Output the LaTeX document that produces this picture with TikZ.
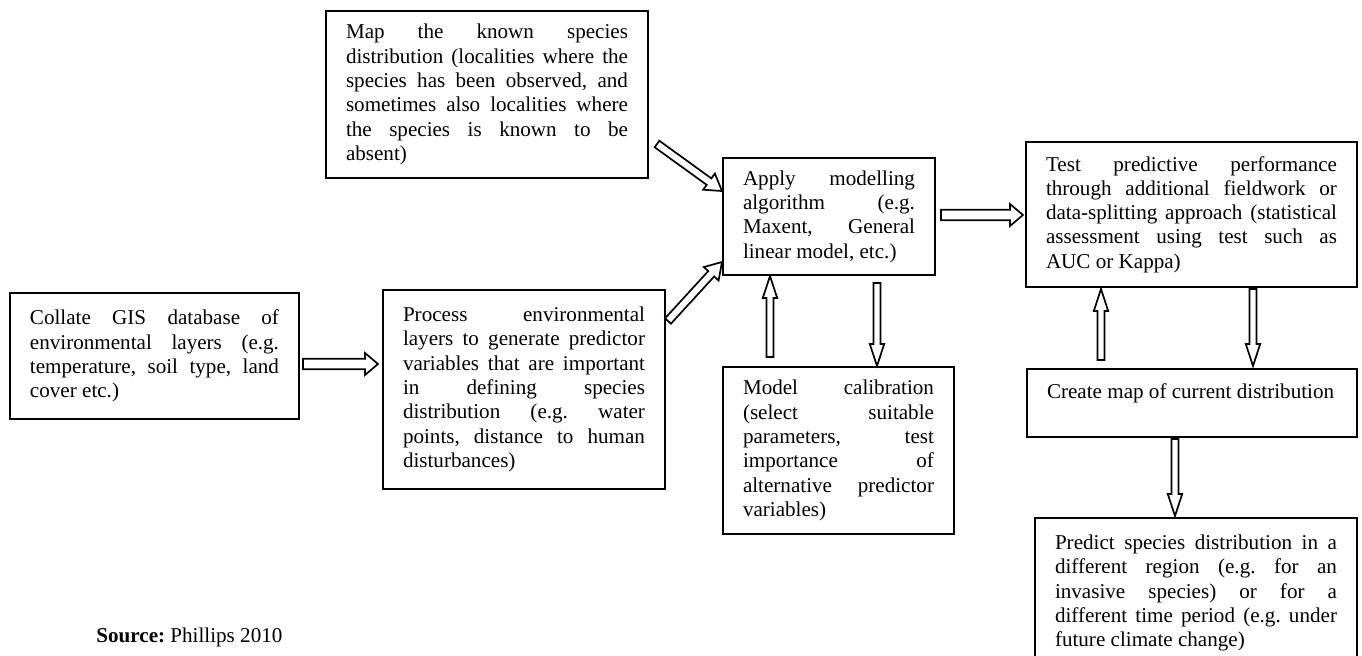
\documentclass[tikz,border=0pt]{standalone}
\usepackage{fontspec}
\setmainfont{Liberation Serif}
\usetikzlibrary{calc}
\hbadness=10000
\tolerance=10000
\hyphenpenalty=10000
\frenchspacing
\tikzset{
    box/.style =    {rectangle,
                    draw=black,
                    line width=1pt,
                    anchor=north west,
                    align=justify,
                    inner xsep=10pt,
                    inner ysep=0pt,
                    font=\fontsize{10.55}{12.15}\selectfont},
    barrow/.style n args = {3}{draw=black,
                    line width=0.85pt,
                    fill=white,
                    to path={let \p1=(\tikztostart), \p2=(\tikztotarget),
                                 \p3=($(\p2)!#3!(\p1)$) in
                             ($(\p1)!#1!90:(\p2)$) -- ($(\p3)!#1!90:(\p2)$)
                             -- ($(\p3)!#2!90:(\p2)$) -- (\p2)
                             -- ($(\p3)!#2!-90:(\p2)$) -- ($(\p3)!#1!-90:(\p2)$)
                             -- ($(\p1)!#1!-90:(\p2)$) -- cycle}},
    wide/.style =   {barrow={2.6pt}{5.5pt}{6.5pt}},
    slant/.style =  {barrow={2pt}{5pt}{8pt}},
    tall/.style =   {barrow={1.75pt}{3.6pt}{11pt}}
}

\begin{document}
\begin{tikzpicture}[x=0.5pt,y=-0.5pt]
    \useasboundingbox (0,0) rectangle (1362,655);

    \node[box, text width=141pt, minimum width=161pt, minimum height=83.5pt] (map) at (325,10)
        {Map the known species\linebreak distribution (localities where the\linebreak species has been observed, and\linebreak sometimes also localities where\linebreak the species is known to be\linebreak absent)};
    \node[box, text width=124.5pt, minimum width=144.5pt, minimum height=63pt] (collate) at (9,292)
        {Collate GIS database of\linebreak environmental layers (e.g.\linebreak temperature, soil type, land\linebreak cover etc.)};
    \node[box, text width=121pt, minimum width=141pt, minimum height=99.5pt] (process) at (382,289)
        {Process environmental\linebreak layers to generate predictor\linebreak variables that are important\linebreak in defining species\linebreak distribution (e.g. water\linebreak points, distance to human\linebreak disturbances)};
    \node[box, text width=86pt, minimum width=106pt, minimum height=58.5pt] (apply) at (722,157)
        {Apply modelling\linebreak algorithm (e.g.\linebreak Maxent, General\linebreak linear model, etc.)};
    \node[box, text width=95.5pt, minimum width=115.5pt, minimum height=83.5pt] (calib) at (722,366)
        {Model calibration\linebreak (select suitable\linebreak parameters, test\linebreak importance of\linebreak alternative predictor\linebreak variables)};
    \node[box, text width=145.5pt, minimum width=165.5pt, minimum height=72.5pt] (test) at (1025,141)
        {Test predictive performance\linebreak through additional fieldwork or\linebreak data-splitting approach (statistical\linebreak assessment using test such as\linebreak AUC or Kappa)};
    \node[box, text width=145pt, minimum width=165pt, minimum height=34pt] (create) at (1026,368)
        {Create map of current distribution\\ \mbox{}};
    \node[box, text width=141pt, minimum width=161pt, minimum height=75pt] (predict) at (1034,517)
        {Predict species distribution in a\linebreak different region (e.g. for an\linebreak invasive species) or for a\linebreak different time period (e.g. under\linebreak future climate change)};
    \node[anchor=west, inner sep=0pt, font=\fontsize{10.55}{12.15}\selectfont] (source) at (96,637)
        {\textbf{Source:} Phillips 2010};

    % arrow ends
    \coordinate (collate-out) at ([shift={(3,72)}]collate.north east);
    \coordinate (process-in)  at ([shift={(-4,75)}]process.north west);
    \coordinate (map-out)     at ([shift={(8,134)}]map.north east);
    \coordinate (apply-in1)   at ([shift={(0,34)}]apply.north west);
    \coordinate (process-out) at ([shift={(2,32)}]process.north east);
    \coordinate (apply-in2)   at ([shift={(0,105)}]apply.north west);
    \coordinate (apply-out)   at ([shift={(5,58)}]apply.north east);
    \coordinate (test-in)     at ([shift={(-2,74)}]test.north west);
    \coordinate (apply-down)  at ([shift={(155,7)}]apply.south west);
    \coordinate (calib-in)    at ([shift={(155,0)}]calib.north west);
    \coordinate (calib-up)    at ([shift={(48,-9)}]calib.north west);
    \coordinate (apply-up)    at ([shift={(48,0)}]apply.south west);
    \coordinate (create-up)   at ([shift={(75,-8)}]create.north west);
    \coordinate (test-up)     at ([shift={(76,1)}]test.south west);
    \coordinate (test-down)   at ([shift={(228,1)}]test.south west);
    \coordinate (create-in)   at ([shift={(227,-2)}]create.north west);
    \coordinate (create-down) at ([shift={(149,1)}]create.south west);
    \coordinate (predict-in)  at ([shift={(141,-1)}]predict.north west);

    \path   (collate-out) edge [wide]  (process-in)
            (map-out)     edge [slant] (apply-in1)
            (process-out) edge [slant] (apply-in2)
            (apply-out)   edge [wide]  (test-in)
            (apply-down)  edge [tall]  (calib-in)
            (calib-up)    edge [tall]  (apply-up)
            (create-up)   edge [tall]  (test-up)
            (test-down)   edge [tall]  (create-in)
            (create-down) edge [tall]  (predict-in);
\end{tikzpicture}
\end{document}
